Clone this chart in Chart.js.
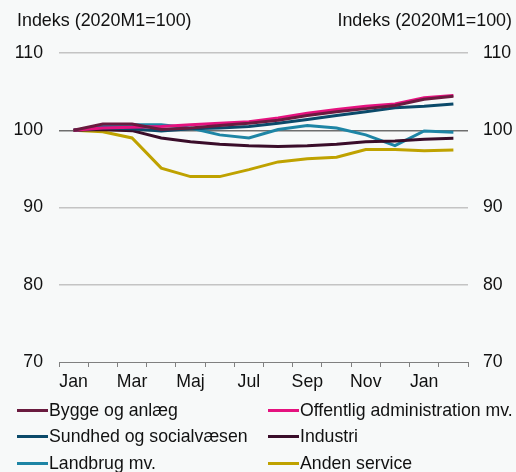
<!DOCTYPE html>
<html>
<head>
<meta charset="utf-8">
<script src="https://cdn.jsdelivr.net/npm/chart.js@4.4.1/dist/chart.umd.min.js"></script>
<style>
  html, body { margin: 0; padding: 0; background: #f7f9f9; }
  #wrap { position: relative; width: 516px; height: 472px; font-family: "Liberation Sans", Arial, sans-serif; }
  #box { position: absolute; left: 0; top: 0; width: 516px; height: 400px; }
  #legend { position: absolute; left: 17px; top: 397px; width: 499px; display: grid; grid-template-columns: 251px 248px; row-gap: 0; }
  .item { display: flex; align-items: center; height: 26.5px; font-size: 17.7px; color: #111; white-space: nowrap; }
  .item span.ln { display: inline-block; width: 31px; height: 3px; margin-right: 1px; }
</style>
</head>
<body>
<div id="wrap">
  <div id="box"><canvas id="graf"></canvas></div>
  <div id="legend"></div>
</div>
<script>
// Data (indeks, 2020M1 = 100)
const maaneder = ['Jan', 'Feb', 'Mar', 'Apr', 'Maj', 'Jun', 'Jul', 'Aug', 'Sep', 'Okt', 'Nov', 'Dec', 'Jan', 'Feb'];
const bygge = [100, 100.8, 100.8, 100.1, 100.3, 100.6, 100.9, 101.3, 101.9, 102.4, 102.8, 103.2, 104.0, 104.4];
const offentlig = [100, 100.3, 100.4, 100.5, 100.7, 100.9, 101.1, 101.6, 102.2, 102.7, 103.1, 103.4, 104.2, 104.5];
const sundhed = [100, 100.3, 100.2, 99.9, 100.2, 100.3, 100.5, 100.9, 101.4, 101.9, 102.4, 102.9, 103.1, 103.4];
const industri = [100, 100.1, 99.95, 99.0, 98.5, 98.2, 98.0, 97.9, 98.0, 98.2, 98.5, 98.6, 98.85, 98.95];
const landbrug = [100, 100.5, 100.7, 100.7, 100.3, 99.4, 99.0, 100.1, 100.6, 100.3, 99.4, 98.0, 99.9, 99.75];
const andenService = [100, 99.8, 99.0, 95.1, 94.0, 94.0, 94.9, 95.9, 96.3, 96.5, 97.5, 97.5, 97.35, 97.45];
const yTicks = [70, 80, 90, 100, 110];

const fonte = { family: '"Liberation Sans", Arial, sans-serif', size: 17.7 };

function serie(label, data, cor) {
  return { label, data, borderColor: cor, backgroundColor: cor, borderWidth: 3, pointRadius: 0, tension: 0, fill: false };
}

// titulos dos eixos no topo
const titulos = {
  id: 'titulos',
  afterDraw(chart) {
    const ctx = chart.ctx;
    ctx.save();
    ctx.font = '17.9px "Liberation Sans", Arial, sans-serif';
    ctx.fillStyle = '#111';
    ctx.textBaseline = 'middle';
    ctx.textAlign = 'left';
    ctx.fillText('Indeks (2020M1=100)', 17, 21);
    ctx.textAlign = 'right';
    ctx.fillText('Indeks (2020M1=100)', 512, 21);
    ctx.restore();
  }
};

const chart = new Chart(document.getElementById('graf'), {
  type: 'line',
  data: {
    labels: maaneder,
    datasets: [
      serie('Bygge og anlæg', bygge, '#6a1b3f'),
      serie('Offentlig administration mv.', offentlig, '#e5127f'),
      serie('Sundhed og socialvæsen', sundhed, '#0b4a6a'),
      serie('Industri', industri, '#3a0d2a'),
      serie('Landbrug mv.', landbrug, '#1e85a5'),
      serie('Anden service', andenService, '#bfa200')
    ]
  },
  options: {
    responsive: true,
    maintainAspectRatio: false,
    animation: false,
    layout: { padding: { top: 53, left: 0, right: 0, bottom: 0 } },
    plugins: {
      legend: { display: false },
      tooltip: { enabled: false }
    },
    scales: {
      x: {
        offset: true,
        grid: { display: true, drawOnChartArea: false, drawTicks: true, tickLength: 5, color: '#808080', offset: true },
        border: { display: true, color: '#808080', width: 1 },
        ticks: {
          autoSkip: false, maxRotation: 0, minRotation: 0, padding: 4, color: '#111', font: fonte,
          callback: (v, i) => (i % 2 === 0 ? maaneder[i] : '')
        },
        afterFit: s => { s.height = 38; }
      },
      y: {
        position: 'left',
        min: 70, max: 110,
        afterBuildTicks: s => { s.ticks = yTicks.map(v => ({ value: v })); },
        grid: {
          drawTicks: false,
          color: c => (c.tick && c.tick.value === 100 ? '#6e6e6e' : (c.tick && c.tick.value === 70 ? 'rgba(0,0,0,0)' : '#c4c4c4')),
          lineWidth: 1.5
        },
        border: { display: false },
        ticks: { padding: 16, color: '#111', font: fonte },
        afterFit: s => { s.width = 59; }
      },
      y1: {
        position: 'right',
        min: 70, max: 110,
        afterBuildTicks: s => { s.ticks = yTicks.map(v => ({ value: v })); },
        grid: { display: false, drawTicks: false },
        border: { display: false },
        ticks: { padding: 15, color: '#111', font: fonte },
        afterFit: s => { s.width = 48; }
      }
    }
  },
  plugins: [titulos]
});

// legenda em duas colunas
const legenda = document.getElementById('legend');
chart.data.datasets.forEach(ds => {
  const d = document.createElement('div');
  d.className = 'item';
  d.innerHTML = `<span class="ln" style="background:${ds.borderColor}"></span>${ds.label}`;
  legenda.appendChild(d);
});
</script>
</body>
</html>
